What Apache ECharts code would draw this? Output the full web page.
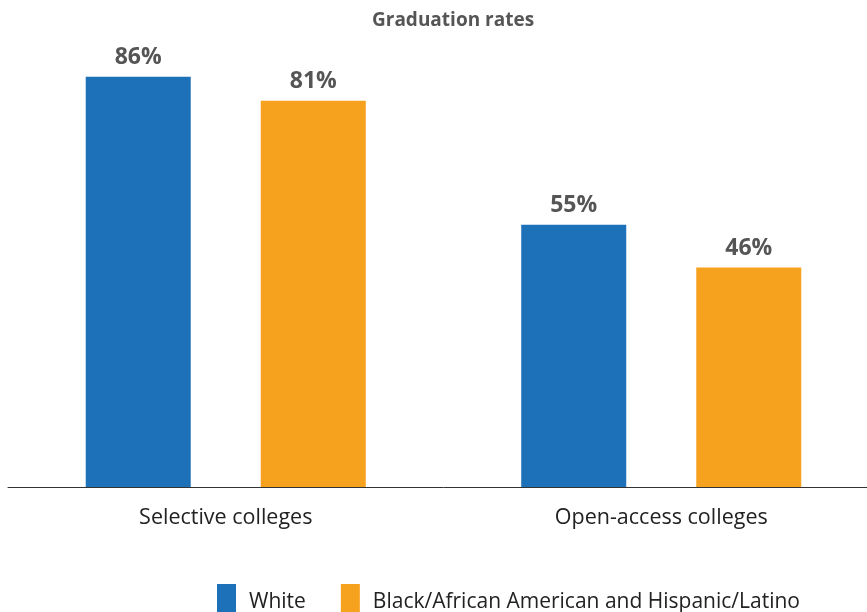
<!DOCTYPE html>
<html>
<head>
<meta charset="utf-8">
<script src="https://cdn.jsdelivr.net/npm/echarts@6/dist/echarts.min.js"></script>
<style>
  html, body { margin: 0; padding: 0; background: #fff; overflow: hidden; }
  #chart { width: 880px; height: 612px; }
</style>
</head>
<body>
<div id="chart"></div>
<script>
const categories = ['Selective colleges', 'Open-access colleges']
const seriesNames = ['White', 'Black/African American and Hispanic/Latino']
const whiteRates = [86, 55]
const minorityRates = [81, 46]

const chart = echarts.init(document.getElementById('chart'))
const font = '"Open Sans", "Noto Sans", sans-serif'

const labelStyle = {
  show: true,
  position: 'top',
  distance: 8,
  formatter: '{c}%',
  color: '#555',
  fontSize: 23,
  fontWeight: 'bold',
  fontFamily: font
}

chart.setOption({
  animation: false,
  title: {
    text: 'Graduation rates',
    left: 367,
    top: 6,
    textStyle: { color: '#555', fontSize: 19, fontWeight: 'bold', fontFamily: font }
  },
  legend: {
    data: seriesNames,
    left: 212,
    top: 579,
    itemWidth: 19,
    itemHeight: 36,
    itemGap: 35,
    icon: 'rect',
    textStyle: { color: '#222', fontSize: 21, fontFamily: font, padding: [6, 0, 0, 8] }
  },
  grid: { left: 8, right: 1, top: 10, bottom: 125, containLabel: false },
  xAxis: {
    type: 'category',
    data: categories,
    axisLine: { lineStyle: { color: '#333', width: 1 } },
    axisTick: { show: false },
    axisLabel: { color: '#222', fontSize: 21.5, fontFamily: font, margin: 20 }
  },
  yAxis: {
    type: 'value',
    min: 0,
    max: 100,
    show: false,
    splitLine: { show: false }
  },
  series: [
    {
      name: seriesNames[0],
      type: 'bar',
      data: whiteRates,
      barWidth: 105,
      barGap: '66.7%',
      itemStyle: { color: '#1c71b8' },
      label: labelStyle
    },
    {
      name: seriesNames[1],
      type: 'bar',
      data: minorityRates,
      barWidth: 105,
      itemStyle: { color: '#f7a21f' },
      label: labelStyle
    }
  ]
})
</script>
</body>
</html>
